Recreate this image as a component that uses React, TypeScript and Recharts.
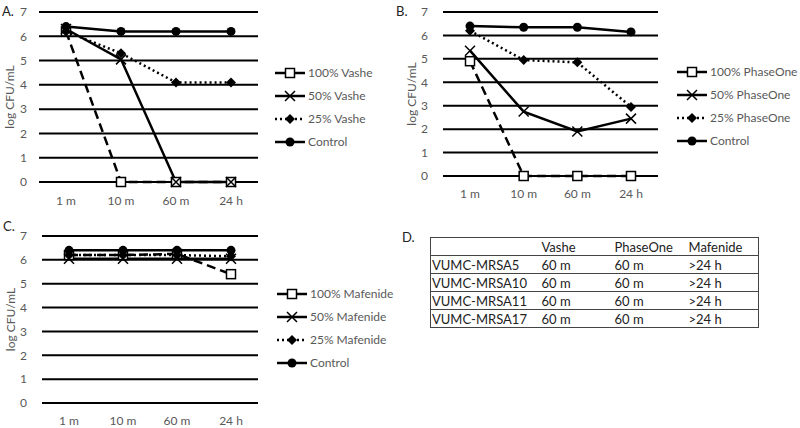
import React from "react";
import { LineChart, Line, XAxis, YAxis, CartesianGrid, Legend } from "recharts";

const times = ["1 m", "10 m", "60 m", "24 h"];
const yTicks = [0, 1, 2, 3, 4, 5, 6, 7];

// A. Vashe
const vasheNames = ["100% Vashe", "50% Vashe", "25% Vashe", "Control"];
const vashe100 = [6.2, 0, 0, 0];
const vashe50 = [6.3, 5.05, 0, 0];
const vashe25 = [6.2, 5.3, 4.1, 4.1];
const vasheControl = [6.4, 6.2, 6.2, 6.2];

// B. PhaseOne
const phaseNames = ["100% PhaseOne", "50% PhaseOne", "25% PhaseOne", "Control"];
const phase100 = [4.9, 0, 0, 0];
const phase50 = [5.35, 2.75, 1.9, 2.45];
const phase25 = [6.2, 4.95, 4.85, 2.95];
const phaseControl = [6.4, 6.35, 6.35, 6.15];

// C. Mafenide
const mafNames = ["100% Mafenide", "50% Mafenide", "25% Mafenide", "Control"];
const maf100 = [6.2, 6.2, 6.25, 5.4];
const maf50 = [6.05, 6.05, 6.05, 6.05];
const maf25 = [6.2, 6.2, 6.2, 6.15];
const mafControl = [6.4, 6.4, 6.4, 6.4];

// D. table
const tableHead = ["", "Vashe", "PhaseOne", "Mafenide"];
const strains = ["VUMC-MRSA5", "VUMC-MRSA10", "VUMC-MRSA11", "VUMC-MRSA17"];
const vasheKill = ["60 m", "60 m", "60 m", "60 m"];
const phaseKill = ["60 m", "60 m", "60 m", "60 m"];
const mafKill = [">24 h", ">24 h", ">24 h", ">24 h"];

const FONT = "Lato, 'Open Sans', sans-serif";
const GRAY = "#595959";
const KEYS = ["s100", "s50", "s25", "ctrl"];
const DASH = ["9 5", undefined, "2 3", undefined];

function Marker({ kind, cx, cy }: { kind: number; cx: number; cy: number }) {
  if (cx == null || cy == null) return null;
  if (kind === 0)
    return <rect x={cx - 4.5} y={cy - 4.5} width={9} height={9} fill="#fff" stroke="#000" strokeWidth={1.5} />;
  if (kind === 1)
    return (
      <path d={`M${cx - 5},${cy - 5}L${cx + 5},${cy + 5}M${cx + 5},${cy - 5}L${cx - 5},${cy + 5}`} stroke="#000" strokeWidth={1.5} />
    );
  if (kind === 2)
    return <path d={`M${cx},${cy - 5}L${cx + 5},${cy}L${cx},${cy + 5}L${cx - 5},${cy}Z`} fill="#000" />;
  return <circle cx={cx} cy={cy} r={4.5} fill="#000" />;
}

function makeLegend(names: string[]) {
  return () => (
    <div style={{ fontFamily: FONT, fontSize: 12, color: GRAY, whiteSpace: "nowrap" }}>
      {names.map((n, i) => (
        <div key={n} style={{ display: "flex", alignItems: "center", height: 23 }}>
          <svg width={30} height={14} style={{ marginRight: 3, flex: "none" }}>
            <line x1={0} y1={7} x2={30} y2={7} stroke="#000" strokeWidth={2.5} strokeDasharray={i === 2 ? "2 3" : undefined} />
            <Marker kind={i} cx={15} cy={7} />
          </svg>
          <span>{n}</span>
        </div>
      ))}
    </div>
  );
}

interface PanelProps {
  series: number[][];
  names: string[];
  height: number;
  top: number;
  bottom: number;
  yWidth: number;
  yTickMargin: number;
  xTickMargin: number;
  labelX: number;
  legendLeft: number;
  legendTop: number;
}

function Panel({ series, names, height, top, bottom, yWidth, yTickMargin, xTickMargin, labelX, legendLeft, legendTop }: PanelProps) {
  const data = times.map((t, i) => {
    const row: Record<string, string | number> = { time: t };
    KEYS.forEach((k, j) => (row[k] = series[j][i]));
    return row;
  });
  return (
    <LineChart width={400} height={height} data={data} margin={{ top, right: 142, left: 0, bottom }}>
      <CartesianGrid vertical={false} stroke="#000" strokeWidth={2} />
      <XAxis
        dataKey="time"
        axisLine={false}
        tickLine={false}
        tickSize={0}
        tickMargin={xTickMargin}
        height={22}
        padding={{ left: 27, right: 27 }}
        tick={{ fontSize: 12, fill: GRAY, fontFamily: FONT }}
      />
      <YAxis
        domain={[0, 7]}
        ticks={yTicks}
        width={yWidth}
        axisLine={false}
        tickLine={false}
        tickSize={0}
        tickMargin={yTickMargin}
        tick={{ fontSize: 12, fill: GRAY, fontFamily: FONT }}
        label={{
          value: "log CFU/mL",
          angle: -90,
          position: "insideLeft",
          offset: labelX,
          style: { textAnchor: "middle", fill: GRAY, fontSize: 12, fontFamily: FONT },
        }}
      />
      <Legend
        layout="vertical"
        align="center"
        verticalAlign="middle"
        content={makeLegend(names)}
        wrapperStyle={{ left: legendLeft, top: legendTop, width: 120 }}
      />
      {KEYS.map((k, j) => (
        <Line
          key={k}
          dataKey={k}
          name={names[j]}
          stroke="#000"
          strokeWidth={2.5}
          strokeDasharray={DASH[j]}
          isAnimationActive={false}
          dot={(p: any) => <Marker key={`${k}-${p.index}`} kind={j} cx={p.cx} cy={p.cy} />}
          activeDot={false}
        />
      ))}
    </LineChart>
  );
}

const letter: React.CSSProperties = { position: "absolute", fontFamily: FONT, fontSize: 13, color: "#222" };
const cell: React.CSSProperties = { padding: "0 0 0 1px", height: 17, borderBottom: "1.5px solid #444", textAlign: "left" };

export default function App() {
  return (
    <div style={{ position: "absolute", left: 0, top: 0, width: 800, height: 428, background: "#fff", overflow: "hidden" }}>
      <div style={{ position: "absolute", left: 0, top: 0 }}>
        <Panel
          series={[vashe100, vashe50, vashe25, vasheControl]}
          names={vasheNames}
          height={215}
          top={12}
          bottom={11}
          yWidth={39}
          yTickMargin={12}
          xTickMargin={14}
          labelX={10}
          legendLeft={275}
          legendTop={61}
        />
      </div>
      <div style={{ position: "absolute", left: 400, top: 0 }}>
        <Panel
          series={[phase100, phase50, phase25, phaseControl]}
          names={phaseNames}
          height={215}
          top={12}
          bottom={17}
          yWidth={43}
          yTickMargin={15}
          xTickMargin={13}
          labelX={12}
          legendLeft={277}
          legendTop={60}
        />
      </div>
      <div style={{ position: "absolute", left: 0, top: 210 }}>
        <Panel
          series={[maf100, maf50, maf25, mafControl]}
          names={mafNames}
          height={218}
          top={26}
          bottom={3}
          yWidth={42}
          yTickMargin={15}
          xTickMargin={13}
          labelX={11}
          legendLeft={277}
          legendTop={72}
        />
      </div>
      <div style={{ ...letter, left: 2, top: 3 }}>A.</div>
      <div style={{ ...letter, left: 396, top: 3 }}>B.</div>
      <div style={{ ...letter, left: 3, top: 218 }}>C.</div>
      <div style={{ ...letter, left: 402, top: 229 }}>D.</div>
      <table
        style={{
          position: "absolute",
          left: 430,
          top: 237,
          width: 329,
          borderCollapse: "collapse",
          border: "1.5px solid #444",
          fontFamily: FONT,
          fontSize: 13,
          color: "#222",
        }}
      >
        <colgroup>
          <col style={{ width: 110 }} />
          <col style={{ width: 73 }} />
          <col style={{ width: 74 }} />
          <col />
        </colgroup>
        <tbody>
          <tr>
            {tableHead.map((h, i) => (
              <td key={i} style={cell}>{h}</td>
            ))}
          </tr>
          {strains.map((s, i) => (
            <tr key={s}>
              <td style={cell}>{s}</td>
              <td style={cell}>{vasheKill[i]}</td>
              <td style={cell}>{phaseKill[i]}</td>
              <td style={cell}>{mafKill[i]}</td>
            </tr>
          ))}
        </tbody>
      </table>
    </div>
  );
}
